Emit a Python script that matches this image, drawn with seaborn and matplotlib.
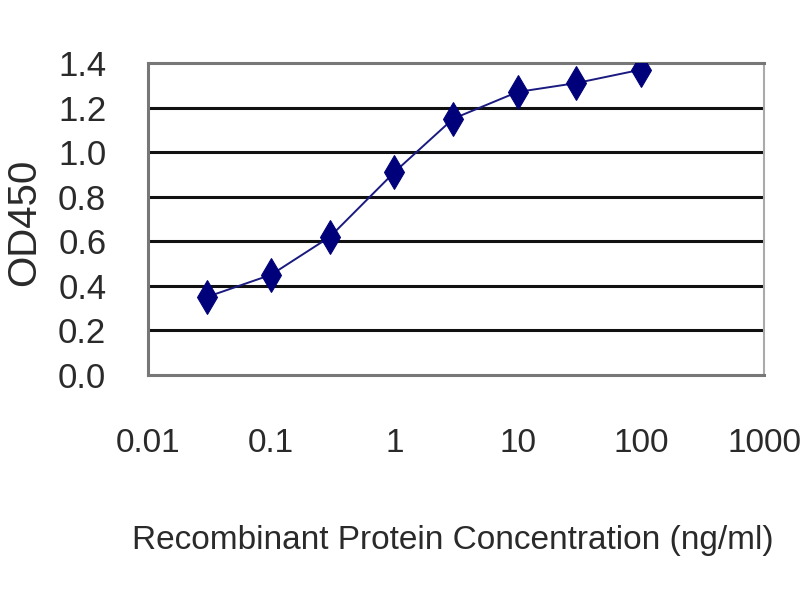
import matplotlib
matplotlib.use('Agg')
import matplotlib.pyplot as plt
import seaborn as sns
import pandas as pd

# values
concentration = [0.03, 0.1, 0.3, 1, 3, 10, 30, 100]
od450 = [0.35, 0.45, 0.62, 0.91, 1.15, 1.27, 1.31, 1.37]
y_ticks = [0.0, 0.2, 0.4, 0.6, 0.8, 1.0, 1.2, 1.4]
x_ticks = [0.01, 0.1, 1, 10, 100, 1000]
x_tick_labels = ['0.01', '0.1', '1', '10', '100', '1000']

sns.set_style('white')
plt.rcParams['font.family'] = ['Liberation Sans', 'DejaVu Sans']

df = pd.DataFrame({'conc': concentration, 'od': od450})

fig = plt.figure(figsize=(8, 6), dpi=100)
ax = fig.add_axes([0.185, 0.375, 0.77, 0.52])

# horizontal grid lines
for yv in y_ticks[1:-1]:
    ax.axhline(yv, color='#111111', lw=2.2, zorder=1)

sns.lineplot(data=df, x='conc', y='od', ax=ax, color='#1a1a80', lw=1.4,
             marker='d', markersize=17, markeredgecolor='#00007a',
             markerfacecolor='#00007a', zorder=3)

ax.set_xscale('log')
ax.set_xlim(0.01, 1000)
ax.set_ylim(0, 1.4)
ax.set_xticks(x_ticks)
ax.set_xticklabels(x_tick_labels)
ax.minorticks_off()
ax.set_yticks(y_ticks)
ax.set_yticklabels([f'{v:.1f}' for v in y_ticks])

for side in ['left', 'bottom', 'top']:
    ax.spines[side].set_color('#777777')
    ax.spines[side].set_linewidth(2.2)
ax.spines['right'].set_color('#aaaaaa')
ax.spines['right'].set_linewidth(1.5)

ax.tick_params(axis='x', direction='in', length=8, width=1.2, color='#777777',
               pad=38, labelsize=24, labelcolor='#2a2a2a')
ax.tick_params(axis='y', direction='in', length=4, width=1.2, color='#777777',
               pad=30, labelsize=25, labelcolor='#2a2a2a')

ax.set_xlabel('Recombinant Protein Concentration (ng/ml)', fontsize=24,
              color='#2a2a2a')
ax.set_ylabel('OD450', fontsize=29, color='#2a2a2a')
ax.xaxis.set_label_coords(0.495, -0.48)
ax.yaxis.set_label_coords(-0.17, 0.49)

fig.savefig('out.png', dpi=100)
